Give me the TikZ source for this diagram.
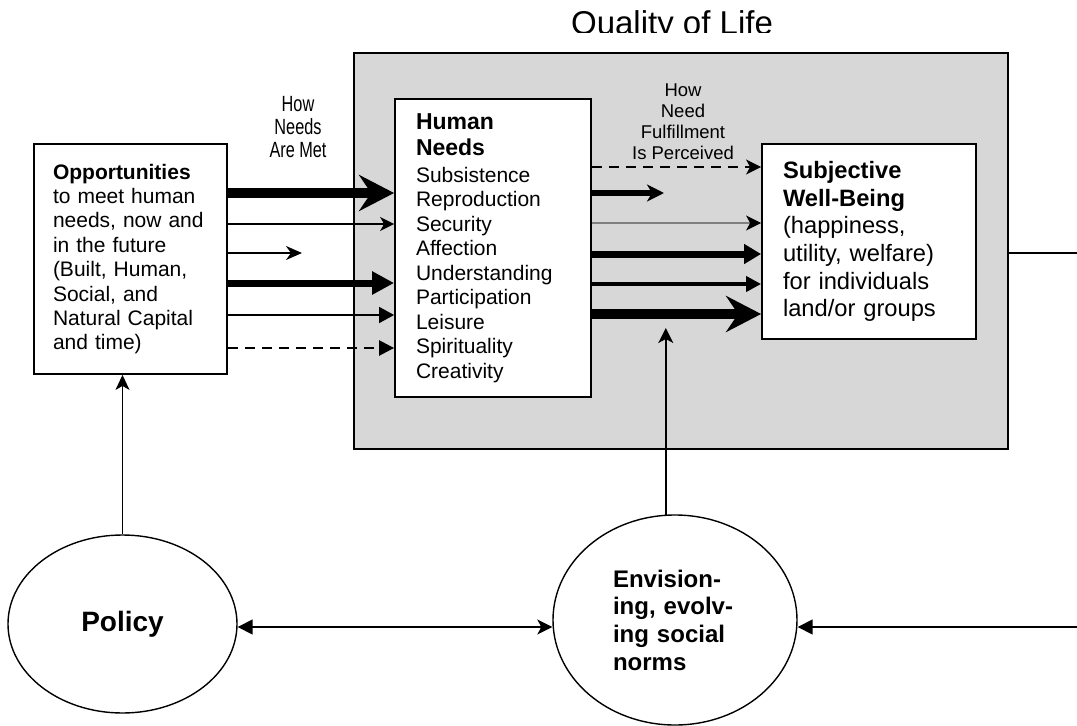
\documentclass[tikz,border=0pt]{standalone}
\usepackage{fontspec}
\setmainfont{Liberation Sans}
\newfontfamily\narrowsans[FakeStretch=0.74]{Liberation Sans}
\usetikzlibrary{arrows.meta,shapes.geometric,positioning}
\definecolor{qolgray}{RGB}{215,215,215}

\begin{document}
\begin{tikzpicture}[x=1pt, y=-1pt,
    box/.style={draw, line width=1.8pt, fill=white, align=left, inner ysep=0pt},
    oval/.style={draw, ellipse, line width=1.4pt, fill=white, inner sep=0pt},
    link/.style={line width=1.6pt},
    hugearrow/.style={line width=9.5pt, -{Stealth[length=35pt,width=36pt,inset=12pt]}},
    finearrow/.style={line width=1.3pt, -{Stealth[length=14pt,width=14pt,inset=4pt]}},
    midarrow/.style={line width=1.8pt, -{Stealth[length=16pt,width=14pt,inset=5pt]}},
    heavyarrow/.style={line width=7pt, -{Triangle[length=22pt,width=22pt]}},
    lightarrow/.style={line width=1.5pt, -{Triangle[length=15pt,width=16pt]}},
    dasharrow/.style={line width=2.5pt, dash pattern=on 10pt off 7pt, -{Triangle[length=15pt,width=15pt]}}]
    \useasboundingbox (0,0) rectangle (1077,726);

    % Quality of Life frame
    \node[draw, fill=qolgray, line width=2.2pt, inner sep=0pt, minimum width=654pt, minimum height=396pt] (qol) at (681,251) {};
    \begin{scope}
        \clip (0,0) rectangle (1077,32.5);
        \node[anchor=base, inner sep=0pt, font=\fontsize{33}{38}\selectfont] (title) at (672,34) {Quality of Life};
    \end{scope}

    % boxes
    \node[box, text width=155pt, inner xsep=19pt, minimum height=230pt, font=\fontsize{21}{24.4}\selectfont] (opp) at (130.5,259)
        {\textbf{Opportunities}\\to meet human\\needs, now and\\in the future\\(Built, Human,\\Social, and\\Natural Capital\\and time)};
    \node[box, text width=154pt, inner xsep=21pt, minimum height=298pt, font=\fontsize{21}{24.5}\selectfont] (needs) at (493,248)
        {{\bfseries\fontsize{23}{26}\selectfont Human\\[2pt]Needs}\\[2pt]Subsistence\\Reproduction\\Security\\Affection\\Understanding\\Participation\\Leisure\\Spirituality\\Creativity};
    \node[box, text width=172pt, inner xsep=21pt, minimum height=195pt, font=\fontsize{23.7}{27.7}\selectfont] (wellbeing) at (869,241.5)
        {\textbf{Subjective}\\\textbf{Well-Being}\\(happiness,\\utility, welfare)\\for individuals\\land/or groups};

    % ovals
    \node[oval, minimum width=229pt, minimum height=178pt, font=\bfseries\fontsize{28}{32}\selectfont] (policy) at (122.5,624) {Policy};
    \node[oval, minimum width=244pt, minimum height=210pt, align=left, text width=124pt, font=\bfseries\fontsize{24}{27.7}\selectfont] (norms) at (675,620)
        {Envision-\\ing, evolv-\\ing social\\norms};

    % labels
    \node[align=center, inner sep=0pt, font=\narrowsans\fontsize{22}{23}\selectfont] (howmet) at (298,127.5) {How\\Needs\\Are Met};
    \node[align=center, inner sep=0pt, font=\fontsize{18.5}{21}\selectfont] (howperceived) at (683,122) {How\\Need\\Fulfillment\\Is Perceived};

    % free ends
    \coordinate (stubL) at (302,253);
    \coordinate (stubR) at (664,193);
    \coordinate (normstip) at (664,328);
    \coordinate (edgeA) at (1077,253);
    \coordinate (edgeB) at (1077,627);

    % how needs are met
    \draw[hugearrow] (opp.east |- 0,193) -- (needs.west |- 0,193);
    \draw[finearrow] (opp.east |- 0,224) -- (needs.west |- 0,224);
    \draw[midarrow] (opp.east |- stubL) -- (stubL);
    \draw[heavyarrow] (opp.east |- 0,283) -- (needs.west |- 0,283);
    \draw[lightarrow] (opp.east |- 0,315) -- (needs.west |- 0,315);
    \draw[dasharrow] (opp.east |- 0,348) -- (needs.west |- 0,348);

    % how fulfillment is perceived
    \draw[line width=2pt, dash pattern=on 10pt off 7pt, -{Stealth[length=15pt,width=15pt,inset=4pt]}] (needs.east |- 0,167) -- (wellbeing.west |- 0,167);
    \draw[line width=5.5pt, -{Stealth[length=17pt,width=17pt,inset=5pt]}] (needs.east |- stubR) -- (stubR);
    \draw[draw=gray, line width=1.3pt, -{Stealth[length=15pt,width=15pt,inset=4pt,black]}] (needs.east |- 0,223) -- (wellbeing.west |- 0,223);
    \draw[line width=7pt, -{Triangle[length=17pt,width=19pt]}] (needs.east |- 0,254) -- (wellbeing.west |- 0,254);
    \draw[line width=4pt, -{Triangle[length=15pt,width=15pt]}] (needs.east |- 0,284) -- (wellbeing.west |- 0,284);
    \draw[hugearrow] (needs.east |- 0,314) -- (wellbeing.west |- 0,314);

    % feedback
    \draw[link, -{Stealth[length=15pt,width=15pt,inset=4pt]}] (norms.95) -- (norms.95 |- normstip);
    \draw[link, -{Stealth[length=15pt,width=14pt,inset=4pt]}] (policy.north) -- (policy.north |- opp.south);
    \draw[link, {Triangle[length=15pt,width=15pt]}-{Stealth[length=15pt,width=15pt,inset=4pt]}] (policy.east |- edgeB) -- (norms.west |- edgeB);
    \draw[link, -{Triangle[length=15pt,width=15pt]}] (edgeB) -- (norms.east |- edgeB);
    \draw[link] (qol.east |- edgeA) -- (edgeA);
\end{tikzpicture}
\end{document}
